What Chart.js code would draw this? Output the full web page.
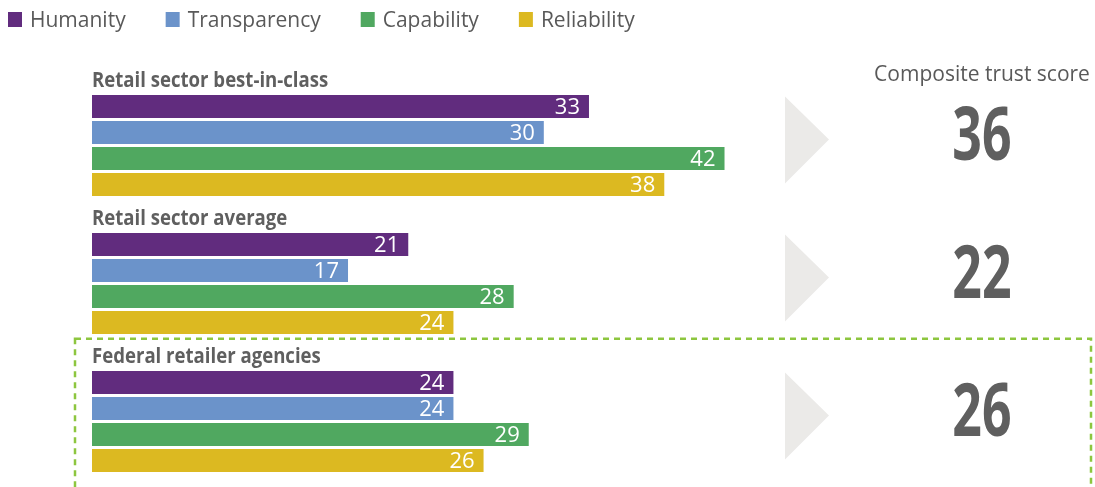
<!DOCTYPE html>
<html>
<head>
<meta charset="utf-8">
<script src="https://cdn.jsdelivr.net/npm/chart.js@4.4.1/dist/chart.umd.min.js"></script>
<style>
  html, body { margin: 0; padding: 0; background: #fff; }
  #wrap { width: 1095px; height: 487px; position: relative; }
</style>
</head>
<body>
<div id="wrap"><canvas id="trust"></canvas></div>
<script>
const groups = ['Retail sector best-in-class', 'Retail sector average', 'Federal retailer agencies'];
const seriesNames = ['Humanity', 'Transparency', 'Capability', 'Reliability'];
const seriesColors = ['#612c7e', '#6b93ca', '#50a860', '#dcb921'];
const humanity = [33, 21, 24];
const transparency = [30, 17, 24];
const capability = [42, 28, 29];
const reliability = [38, 24, 26];
const compositeScores = [36, 22, 26];
const compositeTitle = 'Composite trust score';
const highlightGroup = 2;

const GREY = '#5f5f5f';
const seriesValues = [humanity, transparency, capability, reliability];

// no condensed face installed, so squeeze Open Sans Bold horizontally
function condensedText(ctx, text, x, y, sx) {
  ctx.save();
  ctx.translate(x, y);
  ctx.scale(sx, 1);
  ctx.fillText(text, 0, 0);
  ctx.restore();
}

// custom drawing: legend, group titles, value labels, chevrons, scores, highlight box
const decorations = {
  id: 'decorations',
  afterDatasetsDraw(chart) {
    const { ctx, scales: { y } } = chart;
    ctx.save();

    // legend
    ctx.font = '21px "Open Sans", sans-serif';
    ctx.textBaseline = 'middle';
    ctx.textAlign = 'left';
    let lx = 8;
    seriesNames.forEach((name, i) => {
      ctx.fillStyle = seriesColors[i];
      ctx.fillRect(lx, 12, 14, 15);
      ctx.fillStyle = '#595959';
      ctx.fillText(name, lx + 22, 21);
      lx += 22 + ctx.measureText(name).width + 40;
    });

    // value labels inside bar ends
    ctx.font = '22px "Open Sans", sans-serif';
    ctx.fillStyle = '#fff';
    ctx.textAlign = 'right';
    chart.data.datasets.forEach((ds, i) => {
      chart.getDatasetMeta(i).data.forEach((bar, j) => {
        ctx.fillText(ds.data[j].x, bar.x - 9, bar.y + 1);
      });
    });

    // group titles
    ctx.font = 'bold 22px "Open Sans", sans-serif';
    ctx.fillStyle = GREY;
    ctx.textAlign = 'left';
    groups.forEach((g, i) => {
      condensedText(ctx, g, 92, y.getPixelForValue(i) - 65, 0.845);
    });

    // chevrons
    ctx.fillStyle = '#ebeae8';
    groups.forEach((g, i) => {
      const c = y.getPixelForValue(i);
      ctx.beginPath();
      ctx.moveTo(785, c - 49);
      ctx.lineTo(829, c - 6);
      ctx.lineTo(785, c + 38);
      ctx.closePath();
      ctx.fill();
    });

    // composite scores
    ctx.textAlign = 'center';
    ctx.fillStyle = '#595959';
    ctx.font = '21px "Open Sans", sans-serif';
    ctx.fillText(compositeTitle, 982, 75);
    ctx.font = 'bold 73px "Open Sans", sans-serif';
    ctx.fillStyle = GREY;
    compositeScores.forEach((s, i) => {
      condensedText(ctx, String(s), 982, y.getPixelForValue(i) - 6, 0.71);
    });

    // dashed highlight box
    const top = y.getPixelForValue(highlightGroup - 0.6);
    ctx.strokeStyle = '#8dc63f';
    ctx.lineWidth = 2.5;
    ctx.setLineDash([6, 5]);
    ctx.strokeRect(75, top, 1091 - 75, chart.height - top + 10);

    ctx.restore();
  }
};

new Chart(document.getElementById('trust'), {
  type: 'bar',
  data: {
    datasets: seriesNames.map((name, i) => ({
      label: name,
      data: seriesValues[i].map((v, j) => ({ x: v, y: j })),
      backgroundColor: seriesColors[i],
      categoryPercentage: 104 / 138,
      barPercentage: 23 / 26
    }))
  },
  options: {
    indexAxis: 'y',
    responsive: true,
    maintainAspectRatio: false,
    animation: false,
    layout: { padding: { left: 92, right: 0, top: 0, bottom: 0 } },
    scales: {
      x: { type: 'linear', display: false, min: 0, max: 66.6 },
      y: {
        type: 'linear', display: false, reverse: true,
        min: -145.5 / 138, max: -145.5 / 138 + 487 / 138,
        afterBuildTicks: axis => { axis.ticks = []; }
      }
    },
    plugins: { legend: { display: false }, tooltip: { enabled: false } }
  },
  plugins: [decorations]
});
</script>
</body>
</html>
